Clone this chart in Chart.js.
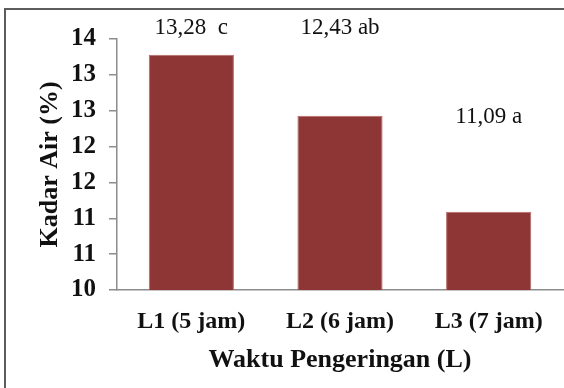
<!DOCTYPE html>
<html>
<head>
<meta charset="utf-8">
<script src="https://cdn.jsdelivr.net/npm/chart.js@4.4.1/dist/chart.umd.min.js"></script>
<style>
  html, body { margin: 0; padding: 0; background: #ffffff; }
  #wrap { width: 564px; height: 388px; position: relative; }
</style>
</head>
<body>
<div id="wrap"><canvas id="c" width="564" height="388"></canvas></div>
<script>
// Moisture content (%) per drying time
const categories = ['L1 (5 jam)', 'L2 (6 jam)', 'L3 (7 jam)'];
const kadarAir = [13.28, 12.43, 11.09];
const notasi = [' c', 'ab', 'a'];
const yTicks = [10, 10.5, 11, 11.5, 12, 12.5, 13, 13.5];

// vertical anchor (in axis units) for each value annotation
const labelLevels = [13.66, 13.66, 12.41];

const serif = '"Liberation Serif", "Times New Roman", serif';

const framePlugin = {
  id: 'frame',
  beforeDraw(chart) {
    const ctx = chart.ctx;
    ctx.save();
    ctx.fillStyle = '#5c5c5c';
    ctx.fillRect(4, 8, chart.width - 4, 2);
    ctx.fillRect(4, 8, 2, chart.height - 8);
    ctx.restore();
  }
};

const valueLabelPlugin = {
  id: 'valueLabels',
  afterDatasetsDraw(chart) {
    const ctx = chart.ctx;
    const meta = chart.getDatasetMeta(0);
    const y = chart.scales.y;
    ctx.save();
    ctx.font = '23px ' + serif;
    ctx.fillStyle = '#111111';
    ctx.textAlign = 'center';
    ctx.textBaseline = 'middle';
    meta.data.forEach((bar, i) => {
      const txt = kadarAir[i].toFixed(2).replace('.', ',') + ' ' + notasi[i];
      ctx.fillText(txt, bar.x, y.getPixelForValue(labelLevels[i]));
    });
    ctx.restore();
  }
};

new Chart(document.getElementById('c'), {
  type: 'bar',
  data: {
    labels: categories,
    datasets: [{
      data: kadarAir,
      backgroundColor: '#8e3535',
      borderColor: '#b56b6b',
      borderWidth: 1,
      barPercentage: 0.573,
      categoryPercentage: 1
    }]
  },
  options: {
    responsive: false,
    animation: false,
    devicePixelRatio: 1,
    layout: { padding: { left: 35, top: 39, right: 1, bottom: 12 } },
    plugins: { legend: { display: false }, tooltip: { enabled: false } },
    scales: {
      x: {
        grid: { display: false, drawTicks: false },
        border: { color: '#8c8c8c', width: 1.5 },
        ticks: {
          color: '#111111',
          font: { family: serif, size: 24, weight: 'bold' },
          padding: 17,
          maxRotation: 0
        },
        title: {
          display: true,
          text: 'Waktu Pengeringan (L)',
          color: '#111111',
          font: { family: serif, size: 26, weight: 'bold' },
          padding: 0
        },
        afterFit(scale) { scale.height = 86; }
      },
      y: {
        min: 10,
        max: 13.5,
        afterBuildTicks(scale) { scale.ticks = yTicks.map(v => ({ value: v })); },
        grid: { drawOnChartArea: false, drawTicks: true, tickLength: 8, color: '#8c8c8c', lineWidth: 1.5 },
        border: { color: '#8c8c8c', width: 1.5 },
        ticks: {
          color: '#111111',
          font: { family: serif, size: 25, weight: 'bold' },
          padding: 13,
          callback: (v) => String(Math.round(v))
        },
        title: {
          display: true,
          text: 'Kadar Air (%)',
          color: '#111111',
          font: { family: serif, size: 26, weight: 'bold' },
          padding: 0
        },
        afterFit(scale) { scale.width = 82; }
      }
    }
  },
  plugins: [framePlugin, valueLabelPlugin]
});
</script>
</body>
</html>
